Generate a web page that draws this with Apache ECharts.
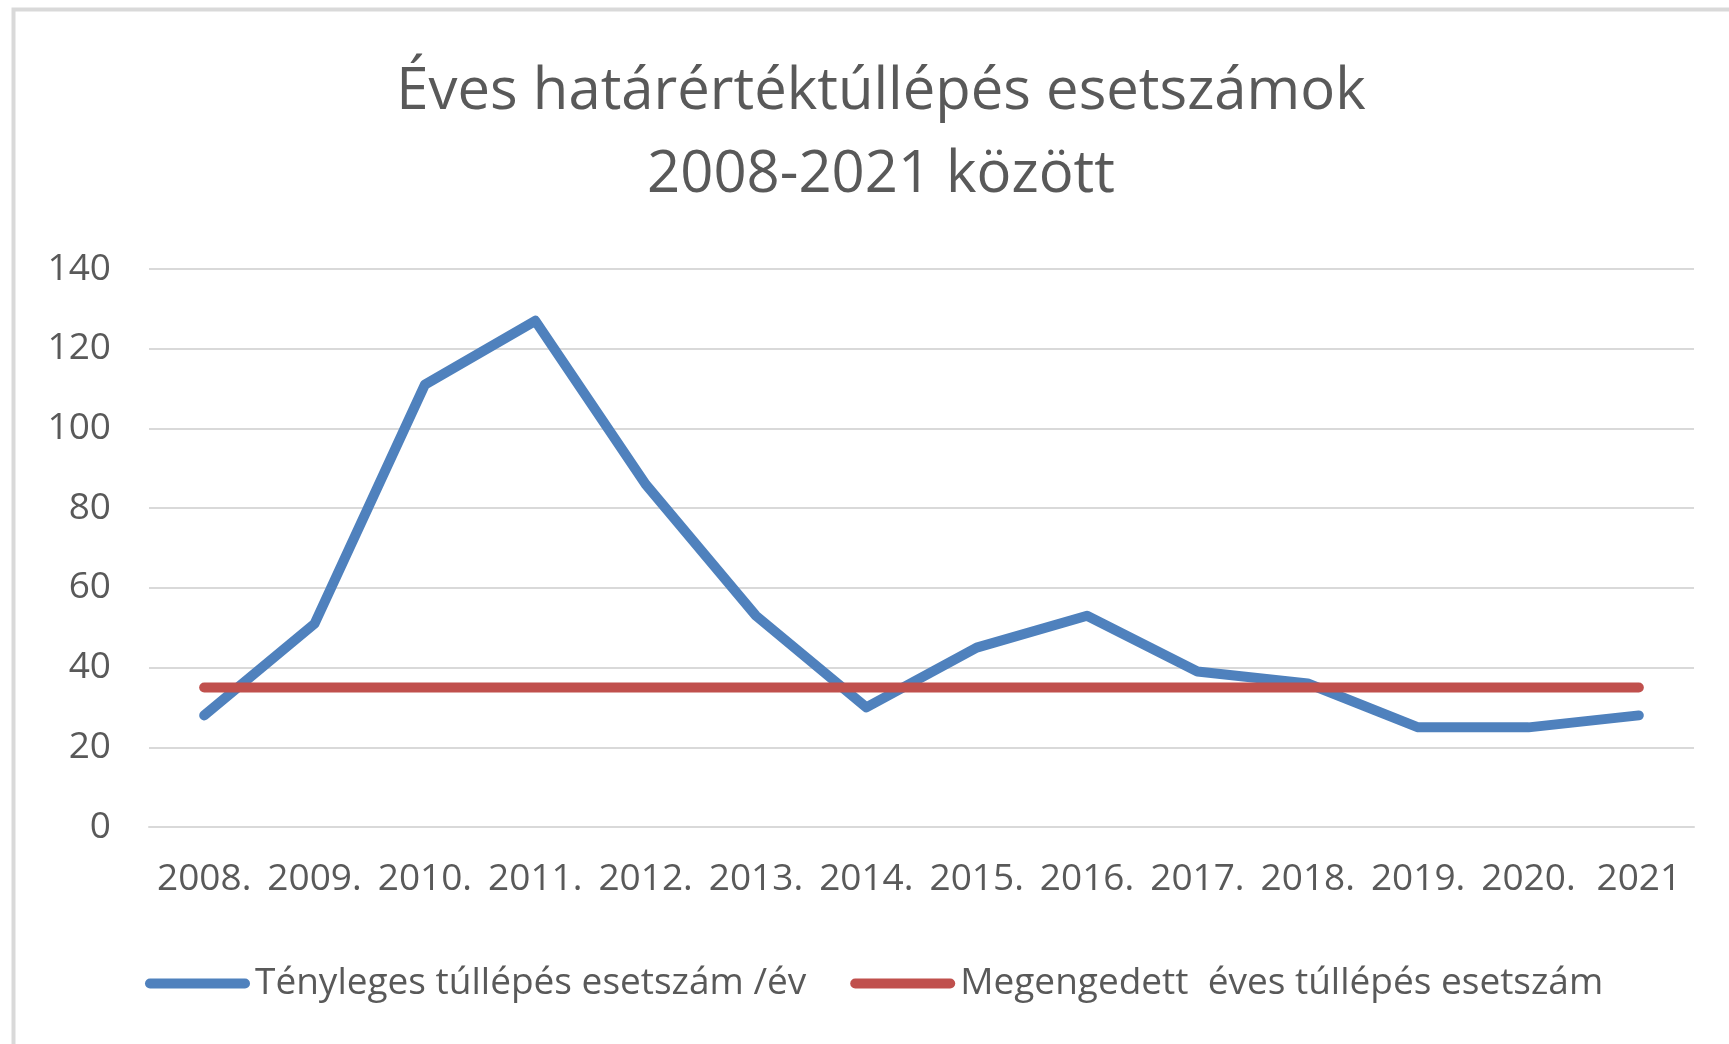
<!DOCTYPE html>
<html>
<head>
<meta charset="utf-8">
<script src="https://cdn.jsdelivr.net/npm/echarts@6/dist/echarts.min.js"></script>
<style>
    html, body { margin: 0; padding: 0; background: #fff; }
    #chart { width: 1729px; height: 1044px; }
</style>
</head>
<body>
<div id="chart"></div>
<script>
// évek (kategóriák)
var years = ['2008.', '2009.', '2010.', '2011.', '2012.', '2013.', '2014.', '2015.', '2016.', '2017.', '2018.', '2019.', '2020.', '2021'];
// tényleges túllépések száma évente
var actualCases = [28, 51, 111, 127, 86, 53, 30, 45, 53, 39, 36, 25, 25, 28];
// megengedett éves túllépés
var allowedCases = [35, 35, 35, 35, 35, 35, 35, 35, 35, 35, 35, 35, 35, 35];
var yTicks = { min: 0, max: 140, step: 20 };

var seriesNames = ['Tényleges túllépés esetszám /év', 'Megengedett  éves túllépés esetszám'];

var textColor = '#595959';
var fontName = 'Open Sans';
// lekerekített vonal a jelmagyarázathoz
var legendIcon = 'path://M5,0 L100,0 A5,5 0 0 1 100,10 L5,10 A5,5 0 0 1 5,0 Z';

var chartDom = document.getElementById('chart');
var myChart = echarts.init(chartDom);

var option = {
    backgroundColor: '#ffffff',
    animation: false,
    title: {
        text: 'Éves határértéktúllépés esetszámok\n2008-2021 között',
        left: 876,
        top: 46,
        textAlign: 'center',
        textStyle: {
            fontFamily: fontName,
            fontSize: 58,
            fontWeight: 'normal',
            color: textColor,
            lineHeight: 83
        }
    },
    // keret a diagram körül
    graphic: [{
        type: 'rect',
        left: 11,
        top: 7,
        shape: { width: 1800, height: 1100 },
        style: { fill: 'none', stroke: '#d9d9d9', lineWidth: 4 },
        silent: true
    }],
    legend: {
        left: 140,
        top: 960,
        icon: legendIcon,
        itemWidth: 105,
        itemHeight: 10,
        itemGap: 44,
        textStyle: {
            fontFamily: fontName,
            fontSize: 37,
            color: textColor
        },
        data: seriesNames
    },
    grid: {
        left: 149,
        right: 35,
        top: 269,
        bottom: 217
    },
    xAxis: {
        type: 'category',
        data: years,
        boundaryGap: true,
        axisLine: { show: true, lineStyle: { color: '#d9d9d9', width: 2 } },
        axisTick: { show: false },
        axisLabel: {
            interval: 0,
            margin: 34,
            fontFamily: fontName,
            fontSize: 37,
            color: textColor
        }
    },
    yAxis: {
        type: 'value',
        min: yTicks.min,
        max: yTicks.max,
        interval: yTicks.step,
        axisLine: { show: false },
        axisTick: { show: false },
        splitLine: { lineStyle: { color: '#d9d9d9', width: 2 } },
        axisLabel: {
            margin: 38,
            fontFamily: fontName,
            fontSize: 37,
            color: textColor
        }
    },
    series: [{
        name: seriesNames[0],
        type: 'line',
        data: actualCases,
        symbol: 'none',
        color: '#4f81bd',
        lineStyle: { width: 10, color: '#4f81bd', cap: 'round', join: 'round' }
    }, {
        name: seriesNames[1],
        type: 'line',
        data: allowedCases,
        symbol: 'none',
        color: '#c0504d',
        lineStyle: { width: 10, color: '#c0504d', cap: 'round', join: 'round' }
    }]
};

myChart.setOption(option);
</script>
</body>
</html>
